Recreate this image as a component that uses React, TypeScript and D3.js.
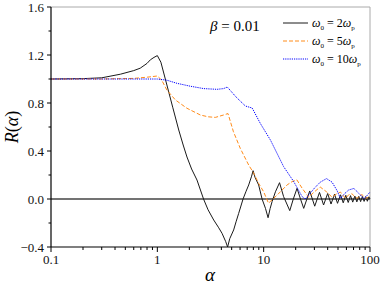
import React from 'react';
import * as d3 from 'd3';

// omega0 = 2 omega_p
const alpha2 = [0.1, 0.2, 0.3, 0.45, 0.6, 0.69, 0.8, 0.86, 0.93, 1.0, 1.08, 1.23, 1.4, 1.59, 1.75, 1.9, 2.1, 2.36, 2.72, 3.0, 3.39, 3.75, 4.06, 4.4, 4.58, 4.8, 5.22, 5.5, 5.82, 6.4, 6.8, 7.23, 7.7, 7.95, 8.3, 8.97, 9.66, 10.4, 11.0, 11.5, 12.0, 12.9, 14.1, 15.4, 17.6, 19.0, 20.6, 22.2, 23.8, 25.5, 27.1, 30.2, 33.5, 36.6, 40, 43, 46.4, 49.5, 52.8, 56, 59.2, 62.4, 65.6, 68.8, 72, 75.2, 78.4, 81.6, 84.8, 88, 91.2, 94.4, 97.6, 100];
const r2 = [1.0, 1.003, 1.01, 1.04, 1.07, 1.09, 1.13, 1.16, 1.18, 1.195, 1.14, 0.95, 0.76, 0.575, 0.45, 0.35, 0.25, 0.158, 0.0, -0.09, -0.175, -0.235, -0.286, -0.356, -0.4, -0.33, -0.258, -0.19, -0.12, 0.0, 0.06, 0.117, 0.19, 0.236, 0.18, 0.117, 0.0, -0.078, -0.156, -0.08, -0.022, 0.06, 0.136, 0.02, -0.097, 0.0, 0.089, 0.0, -0.078, 0.0, 0.067, -0.06, 0.055, -0.05, 0.046, -0.042, 0.04, -0.036, 0.035, -0.032, 0.031, -0.029, 0.028, -0.026, 0.025, -0.024, 0.023, -0.022, 0.021, -0.02, 0.02, -0.019, 0.018, 0.0];

// omega0 = 5 omega_p
const alpha5 = [0.1, 0.3, 0.6, 0.8, 1.0, 1.1, 1.23, 1.48, 1.9, 2.54, 3.0, 3.51, 4.2, 4.62, 5.2, 6.04, 7.23, 8.0, 8.97, 10.0, 11.1, 13.4, 16.6, 18.5, 20.5, 23.0, 26.5, 30, 34, 39, 44, 48, 52.7, 58.7, 63, 67.6, 72, 75.8, 80, 84.2, 88, 92.5, 100];
const r5 = [1.0, 1.0, 1.005, 1.015, 1.025, 0.99, 0.908, 0.825, 0.756, 0.70, 0.685, 0.68, 0.70, 0.712, 0.56, 0.42, 0.283, 0.22, 0.13, 0.06, -0.035, 0.033, 0.117, 0.145, 0.16, 0.09, 0.015, 0.06, 0.1, 0.06, 0.015, 0.04, 0.058, 0.005, 0.035, 0.044, 0.02, 0.005, 0.03, 0.036, 0.02, 0.005, 0.028];

// omega0 = 10 omega_p
const alpha10 = [0.1, 0.5, 1.0, 1.23, 1.53, 2.04, 2.73, 3.64, 4.2, 4.55, 5.5, 6.73, 7.8, 9.3, 11.6, 15.4, 19.2, 23, 24.6, 27.5, 30, 34, 39, 44, 49, 52.7, 57, 63, 70.5, 78, 87.5, 93, 100];
const r10 = [1.0, 1.0, 1.0, 0.99, 0.964, 0.94, 0.92, 0.914, 0.92, 0.933, 0.85, 0.775, 0.758, 0.63, 0.49, 0.27, 0.144, 0.02, 0.0, 0.05, 0.09, 0.14, 0.17, 0.14, 0.07, 0.005, 0.04, 0.075, 0.088, 0.05, 0.003, 0.025, 0.058];

const yTicks = [-0.4, 0.0, 0.4, 0.8, 1.2, 1.6];
const yMinor = [-0.2, 0.2, 0.6, 1.0, 1.4];
const xTicks = [0.1, 1, 10, 100];
const xMinor = [0.2, 0.3, 0.4, 0.5, 0.6, 0.7, 0.8, 0.9, 2, 3, 4, 5, 6, 7, 8, 9, 20, 30, 40, 50, 60, 70, 80, 90];

const seriesList = [
    { name: '2', xs: alpha2, ys: r2, color: '#1a1a1a', dash: undefined },
    { name: '5', xs: alpha5, ys: r5, color: '#ff8c1a', dash: '4,2' },
    { name: '10', xs: alpha10, ys: r10, color: '#0000ff', dash: '1.2,1' },
];

const width = 382, height = 287;
const margin = { top: 7, right: 12, bottom: 40, left: 51 };
const x = d3.scaleLog().domain([0.1, 100]).range([margin.left, width - margin.right]);
const y = d3.scaleLinear().domain([-0.4, 1.6]).range([height - margin.bottom, margin.top]);
const fmt = d3.format('.1f');

export default function App() {
    const x0 = x(0.1), x1 = x(100), yb = y(-0.4), yt = y(1.6);

    return (
        <svg width={width} height={height} className="chart"
            style={{ position: 'absolute', left: 0, top: 0, background: '#fff' }}>
            <style>{`.chart text { font-family: 'Liberation Serif', serif; } .it { font-style: italic; }`}</style>
            {/* frame top/right */}
            <path d={`M${x0},${yt}H${x1}V${yb}`} fill="none" stroke="#aaa" strokeWidth={1} />
            {/* zero line */}
            <line x1={x0} x2={x1} y1={y(0)} y2={y(0)} stroke="#444" strokeWidth={1.3} />

            {seriesList.map(s => (
                <path key={s.name} fill="none" stroke={s.color} strokeWidth={1} strokeDasharray={s.dash}
                    d={d3.line<number>().x((v, i) => x(s.xs[i])).y(v => y(v))(s.ys) || ''} />
            ))}

            {/* y axis */}
            <line x1={x0} x2={x0} y1={yt} y2={yb} stroke="#000" strokeWidth={1.2} />
            {yTicks.map(t => (
                <g key={t}>
                    <line x1={x0 - 4} x2={x0} y1={y(t)} y2={y(t)} stroke="#000" />
                    <text x={x0 - 7} y={y(t)} dy="0.35em" textAnchor="end" fontSize={13} fill="#111">{fmt(t)}</text>
                </g>
            ))}
            {yMinor.map(t => (
                <line key={t} x1={x0 - 2.5} x2={x0} y1={y(t)} y2={y(t)} stroke="#000" />
            ))}

            {/* x axis */}
            <line x1={x0} x2={x1} y1={yb} y2={yb} stroke="#000" strokeWidth={1.2} />
            {xTicks.map(t => (
                <g key={t}>
                    <line x1={x(t)} x2={x(t)} y1={yb} y2={yb + 5} stroke="#000" />
                    <text x={x(t)} y={yb + 17} textAnchor="middle" fontSize={13} fill="#111">{String(t)}</text>
                </g>
            ))}
            {xMinor.map(t => (
                <line key={t} x1={x(t)} x2={x(t)} y1={yb} y2={yb + 3} stroke="#000" />
            ))}

            {/* axis titles */}
            <text x={210} y={281} textAnchor="middle" fontSize={19} className="it">α</text>
            <text transform="translate(18,127) rotate(-90)" textAnchor="middle" fontSize={18}>
                <tspan className="it">R</tspan>(<tspan className="it">α</tspan>)
            </text>

            {/* beta label */}
            <text x={210} y={31} fontSize={15}>
                <tspan className="it">β</tspan> = 0.01
            </text>

            {/* legend */}
            {seriesList.map((s, i) => (
                <g key={s.name} transform={`translate(283,${23 + i * 18})`}>
                    <line x1={0} x2={25} stroke={s.color} strokeWidth={1} strokeDasharray={s.dash} />
                    <text x={29} y={4} fontSize={12}>
                        <tspan className="it">ω</tspan>
                        <tspan fontSize={7} dy={3}>0</tspan>
                        <tspan dy={-3}>{` = ${s.name}`}</tspan>
                        <tspan className="it">ω</tspan>
                        <tspan fontSize={7} dy={3}>p</tspan>
                    </text>
                </g>
            ))}
        </svg>
    );
}
